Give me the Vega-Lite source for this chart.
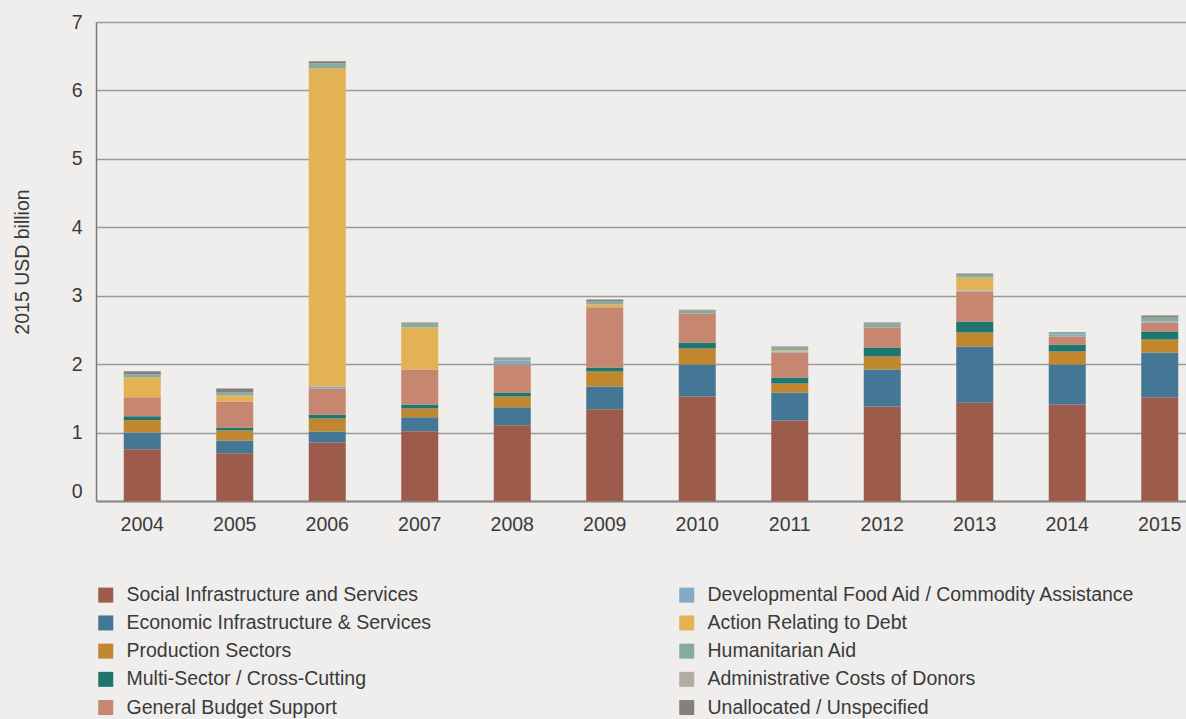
{
  "$schema": "https://vega.github.io/schema/vega-lite/v6.json",
  "autosize": "none",
  "padding": {"left": 96, "top": 22, "right": 0, "bottom": 218},
  "width": 1090,
  "height": 479,
  "background": "#efeeec",
  "config": {
    "view": {"stroke": null},
    "font": "Liberation Sans",
    "axis": {"labelFont": "Liberation Sans", "titleFont": "Liberation Sans"}
  },
  "data": {
    "values": [
      {"year": "2004", "sector": "Social Infrastructure and Services", "k": 1, "value": 0.757},
      {"year": "2004", "sector": "Economic Infrastructure & Services", "k": 2, "value": 0.245},
      {"year": "2004", "sector": "Production Sectors", "k": 3, "value": 0.177},
      {"year": "2004", "sector": "Multi-Sector / Cross-Cutting", "k": 4, "value": 0.058},
      {"year": "2004", "sector": "General Budget Support", "k": 5, "value": 0.278},
      {"year": "2004", "sector": "Action Relating to Debt", "k": 7, "value": 0.293},
      {"year": "2004", "sector": "Humanitarian Aid", "k": 8, "value": 0.043},
      {"year": "2004", "sector": "Unallocated / Unspecified", "k": 10, "value": 0.044},

      {"year": "2005", "sector": "Social Infrastructure and Services", "k": 1, "value": 0.699},
      {"year": "2005", "sector": "Economic Infrastructure & Services", "k": 2, "value": 0.185},
      {"year": "2005", "sector": "Production Sectors", "k": 3, "value": 0.147},
      {"year": "2005", "sector": "Multi-Sector / Cross-Cutting", "k": 4, "value": 0.044},
      {"year": "2005", "sector": "General Budget Support", "k": 5, "value": 0.38},
      {"year": "2005", "sector": "Action Relating to Debt", "k": 7, "value": 0.087},
      {"year": "2005", "sector": "Humanitarian Aid", "k": 8, "value": 0.044},
      {"year": "2005", "sector": "Unallocated / Unspecified", "k": 10, "value": 0.059},

      {"year": "2006", "sector": "Social Infrastructure and Services", "k": 1, "value": 0.855},
      {"year": "2006", "sector": "Economic Infrastructure & Services", "k": 2, "value": 0.161},
      {"year": "2006", "sector": "Production Sectors", "k": 3, "value": 0.19},
      {"year": "2006", "sector": "Multi-Sector / Cross-Cutting", "k": 4, "value": 0.059},
      {"year": "2006", "sector": "General Budget Support", "k": 5, "value": 0.38},
      {"year": "2006", "sector": "Developmental Food Aid / Commodity Assistance", "k": 6, "value": 0.029},
      {"year": "2006", "sector": "Action Relating to Debt", "k": 7, "value": 4.649},
      {"year": "2006", "sector": "Humanitarian Aid", "k": 8, "value": 0.073},
      {"year": "2006", "sector": "Unallocated / Unspecified", "k": 10, "value": 0.029},

      {"year": "2007", "sector": "Social Infrastructure and Services", "k": 1, "value": 1.02},
      {"year": "2007", "sector": "Economic Infrastructure & Services", "k": 2, "value": 0.205},
      {"year": "2007", "sector": "Production Sectors", "k": 3, "value": 0.127},
      {"year": "2007", "sector": "Multi-Sector / Cross-Cutting", "k": 4, "value": 0.059},
      {"year": "2007", "sector": "General Budget Support", "k": 5, "value": 0.512},
      {"year": "2007", "sector": "Action Relating to Debt", "k": 7, "value": 0.614},
      {"year": "2007", "sector": "Humanitarian Aid", "k": 8, "value": 0.058},
      {"year": "2007", "sector": "Unallocated / Unspecified", "k": 10, "value": 0.015},

      {"year": "2008", "sector": "Social Infrastructure and Services", "k": 1, "value": 1.108},
      {"year": "2008", "sector": "Economic Infrastructure & Services", "k": 2, "value": 0.263},
      {"year": "2008", "sector": "Production Sectors", "k": 3, "value": 0.157},
      {"year": "2008", "sector": "Multi-Sector / Cross-Cutting", "k": 4, "value": 0.058},
      {"year": "2008", "sector": "General Budget Support", "k": 5, "value": 0.41},
      {"year": "2008", "sector": "Developmental Food Aid / Commodity Assistance", "k": 6, "value": 0.058},
      {"year": "2008", "sector": "Humanitarian Aid", "k": 8, "value": 0.029},
      {"year": "2008", "sector": "Unallocated / Unspecified", "k": 10, "value": 0.015},

      {"year": "2009", "sector": "Social Infrastructure and Services", "k": 1, "value": 1.342},
      {"year": "2009", "sector": "Economic Infrastructure & Services", "k": 2, "value": 0.332},
      {"year": "2009", "sector": "Production Sectors", "k": 3, "value": 0.219},
      {"year": "2009", "sector": "Multi-Sector / Cross-Cutting", "k": 4, "value": 0.059},
      {"year": "2009", "sector": "General Budget Support", "k": 5, "value": 0.881},
      {"year": "2009", "sector": "Action Relating to Debt", "k": 7, "value": 0.04},
      {"year": "2009", "sector": "Humanitarian Aid", "k": 8, "value": 0.044},
      {"year": "2009", "sector": "Unallocated / Unspecified", "k": 10, "value": 0.029},

      {"year": "2010", "sector": "Social Infrastructure and Services", "k": 1, "value": 1.528},
      {"year": "2010", "sector": "Economic Infrastructure & Services", "k": 2, "value": 0.468},
      {"year": "2010", "sector": "Production Sectors", "k": 3, "value": 0.234},
      {"year": "2010", "sector": "Multi-Sector / Cross-Cutting", "k": 4, "value": 0.087},
      {"year": "2010", "sector": "General Budget Support", "k": 5, "value": 0.424},
      {"year": "2010", "sector": "Humanitarian Aid", "k": 8, "value": 0.044},
      {"year": "2010", "sector": "Unallocated / Unspecified", "k": 10, "value": 0.01},

      {"year": "2011", "sector": "Social Infrastructure and Services", "k": 1, "value": 1.177},
      {"year": "2011", "sector": "Economic Infrastructure & Services", "k": 2, "value": 0.409},
      {"year": "2011", "sector": "Production Sectors", "k": 3, "value": 0.132},
      {"year": "2011", "sector": "Multi-Sector / Cross-Cutting", "k": 4, "value": 0.088},
      {"year": "2011", "sector": "General Budget Support", "k": 5, "value": 0.365},
      {"year": "2011", "sector": "Developmental Food Aid / Commodity Assistance", "k": 6, "value": 0.015},
      {"year": "2011", "sector": "Action Relating to Debt", "k": 7, "value": 0.014},
      {"year": "2011", "sector": "Humanitarian Aid", "k": 8, "value": 0.044},
      {"year": "2011", "sector": "Unallocated / Unspecified", "k": 10, "value": 0.015},

      {"year": "2012", "sector": "Social Infrastructure and Services", "k": 1, "value": 1.382},
      {"year": "2012", "sector": "Economic Infrastructure & Services", "k": 2, "value": 0.541},
      {"year": "2012", "sector": "Production Sectors", "k": 3, "value": 0.19},
      {"year": "2012", "sector": "Multi-Sector / Cross-Cutting", "k": 4, "value": 0.131},
      {"year": "2012", "sector": "General Budget Support", "k": 5, "value": 0.293},
      {"year": "2012", "sector": "Humanitarian Aid", "k": 8, "value": 0.058},
      {"year": "2012", "sector": "Unallocated / Unspecified", "k": 10, "value": 0.015},

      {"year": "2013", "sector": "Social Infrastructure and Services", "k": 1, "value": 1.436},
      {"year": "2013", "sector": "Economic Infrastructure & Services", "k": 2, "value": 0.823},
      {"year": "2013", "sector": "Production Sectors", "k": 3, "value": 0.204},
      {"year": "2013", "sector": "Multi-Sector / Cross-Cutting", "k": 4, "value": 0.161},
      {"year": "2013", "sector": "General Budget Support", "k": 5, "value": 0.439},
      {"year": "2013", "sector": "Developmental Food Aid / Commodity Assistance", "k": 6, "value": 0.014},
      {"year": "2013", "sector": "Action Relating to Debt", "k": 7, "value": 0.191},
      {"year": "2013", "sector": "Humanitarian Aid", "k": 8, "value": 0.039},
      {"year": "2013", "sector": "Unallocated / Unspecified", "k": 10, "value": 0.019},

      {"year": "2014", "sector": "Social Infrastructure and Services", "k": 1, "value": 1.411},
      {"year": "2014", "sector": "Economic Infrastructure & Services", "k": 2, "value": 0.585},
      {"year": "2014", "sector": "Production Sectors", "k": 3, "value": 0.19},
      {"year": "2014", "sector": "Multi-Sector / Cross-Cutting", "k": 4, "value": 0.102},
      {"year": "2014", "sector": "General Budget Support", "k": 5, "value": 0.117},
      {"year": "2014", "sector": "Developmental Food Aid / Commodity Assistance", "k": 6, "value": 0.029},
      {"year": "2014", "sector": "Humanitarian Aid", "k": 8, "value": 0.029},
      {"year": "2014", "sector": "Unallocated / Unspecified", "k": 10, "value": 0.008},

      {"year": "2015", "sector": "Social Infrastructure and Services", "k": 1, "value": 1.518},
      {"year": "2015", "sector": "Economic Infrastructure & Services", "k": 2, "value": 0.653},
      {"year": "2015", "sector": "Production Sectors", "k": 3, "value": 0.19},
      {"year": "2015", "sector": "Multi-Sector / Cross-Cutting", "k": 4, "value": 0.117},
      {"year": "2015", "sector": "General Budget Support", "k": 5, "value": 0.132},
      {"year": "2015", "sector": "Developmental Food Aid / Commodity Assistance", "k": 6, "value": 0.014},
      {"year": "2015", "sector": "Humanitarian Aid", "k": 8, "value": 0.059},
      {"year": "2015", "sector": "Unallocated / Unspecified", "k": 10, "value": 0.029}
    ]
  },
  "mark": {"type": "bar", "strokeWidth": 0},
  "encoding": {
    "x": {
      "field": "year",
      "type": "ordinal",
      "scale": {"paddingInner": 0.6, "paddingOuter": 0.3, "range": [0, 1110]},
      "axis": {
        "title": null,
        "labelAngle": 0,
        "labelFontSize": 19.5,
        "labelColor": "#3a3a3a",
        "labelPadding": 14,
        "ticks": false,
        "domainColor": "#8a8a88",
        "domainWidth": 2
      }
    },
    "y": {
      "field": "value",
      "type": "quantitative",
      "stack": "zero",
      "scale": {"domain": [0, 7], "nice": false},
      "axis": {
        "title": "2015 USD billion",
        "titleFontSize": 19.5,
        "titleFontWeight": "normal",
        "titleColor": "#3a3a3a",
        "titlePadding": 39,
        "values": [0, 1, 2, 3, 4, 5, 6, 7],
        "labelFontSize": 19.5,
        "labelColor": "#3a3a3a",
        "labelPadding": 14,
        "labelBaseline": {"expr": "datum.value == 0 ? 'bottom' : 'middle'"},
        "ticks": false,
        "domainColor": "#7a7a78",
        "domainWidth": 1.5,
        "grid": true,
        "gridColor": "#9a9a98",
        "gridWidth": 1.6
      }
    },
    "color": {
      "field": "sector",
      "type": "nominal",
      "scale": {
        "domain": [
          "Social Infrastructure and Services",
          "Economic Infrastructure & Services",
          "Production Sectors",
          "Multi-Sector / Cross-Cutting",
          "General Budget Support",
          "Developmental Food Aid / Commodity Assistance",
          "Action Relating to Debt",
          "Humanitarian Aid",
          "Administrative Costs of Donors",
          "Unallocated / Unspecified"
        ],
        "range": [
          "#9d5b4b",
          "#437795",
          "#c0872e",
          "#20756e",
          "#c7866f",
          "#84a9c4",
          "#e2b255",
          "#87ac9f",
          "#b0aca3",
          "#847f79"
        ]
      },
      "legend": {
        "title": null,
        "orient": "none",
        "legendX": 0,
        "legendY": 563,
        "columns": 2,
        "columnPadding": 245,
        "rowPadding": 7.2,
        "padding": 0,
        "symbolType": "square",
        "symbolSize": 225,
        "symbolStrokeWidth": 0,
        "labelFont": "Liberation Sans",
        "labelFontSize": 19.5,
        "labelColor": "#3a3a3a",
        "labelOffset": 11,
        "labelLimit": 600
      }
    },
    "order": {"field": "k", "type": "quantitative", "sort": "ascending"}
  }
}
